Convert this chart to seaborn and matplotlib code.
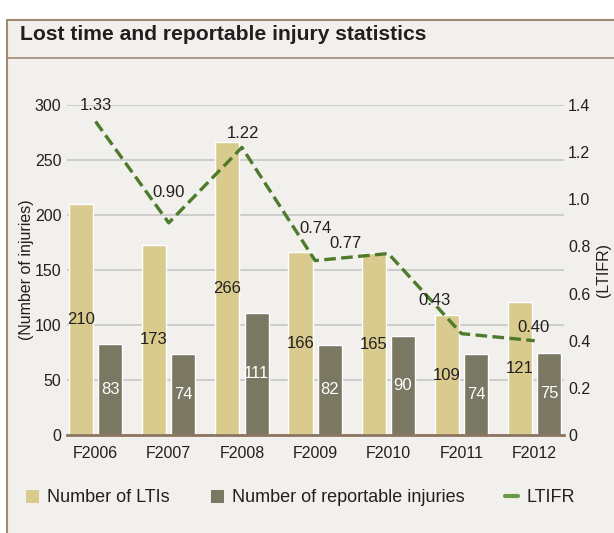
import matplotlib
matplotlib.use("Agg")
import matplotlib.pyplot as plt
from matplotlib.lines import Line2D
from matplotlib.patches import Patch, Rectangle
import seaborn as sns
import pandas as pd
import numpy as np

# data
years = ["F2006", "F2007", "F2008", "F2009", "F2010", "F2011", "F2012"]
ltis = [210, 173, 266, 166, 165, 109, 121]
reportable = [83, 74, 111, 82, 90, 74, 75]
ltifr = [1.33, 0.90, 1.22, 0.74, 0.77, 0.43, 0.40]

# label nudges for the LTIFR values (pixels)
ltifr_label_offsets = [(0, 16), (0, 30), (1, 14), (0, 32), (-43, 10), (-27, 33), (-1, 13)]

BG = "#f1f0ec"
FRAME = "#a08a74"
LTI_COLOR = "#d9cb8e"
REP_COLOR = "#7a7763"
LINE_COLOR = "#4e7a2c"
TEXT = "#231f20"

sns.set_style("white")
plt.rcParams["font.family"] = ["Liberation Sans", "DejaVu Sans"]

df = pd.DataFrame({
    "year": years * 2,
    "count": ltis + reportable,
    "series": ["Number of LTIs"] * len(years) + ["Number of reportable injuries"] * len(years),
})

fig = plt.figure(figsize=(6.14, 5.33), dpi=100, facecolor="white")
W, H = 614, 533

# panel background and frame lines
fig.add_artist(Rectangle((7 / W, 0), 1 - 7 / W, 1 - 20 / H, transform=fig.transFigure,
                         facecolor=BG, edgecolor="none", zorder=-10))
fig.add_artist(Line2D([7 / W, 7 / W], [0, 1 - 20 / H], transform=fig.transFigure, color=FRAME, lw=1.5))
fig.add_artist(Line2D([7 / W, 1], [1 - 20 / H, 1 - 20 / H], transform=fig.transFigure, color=FRAME, lw=1.5))
fig.add_artist(Line2D([7 / W, 1], [1 - 58 / H, 1 - 58 / H], transform=fig.transFigure, color=FRAME, lw=1.2))
fig.text(20 / W, 1 - 34 / H, "Lost time and reportable injury statistics", fontsize=15.2,
         fontweight="bold", color=TEXT, va="center", ha="left")

ax = fig.add_axes([67 / W, (H - 435) / H, 497 / W, 330 / H])
ax.set_facecolor(BG)

sns.barplot(data=df, x="year", y="count", hue="series", ax=ax,
            palette=[LTI_COLOR, REP_COLOR], width=0.8, gap=0.175,
            saturation=1, legend=False, zorder=3)

ax.set_xlim(-0.39, 6.4)
ax.set_ylim(0, 300)
ax.set_yticks(range(0, 301, 50))
ax.yaxis.grid(True, color="#c6c6c6", lw=1.2, zorder=0)
ax.set_axisbelow(True)
for s in ["left", "right", "top"]:
    ax.spines[s].set_visible(False)
ax.spines["bottom"].set_color("#8b7560")
ax.spines["bottom"].set_linewidth(2)
ax.spines["bottom"].set_zorder(5)
ax.tick_params(axis="both", length=0, labelsize=11.5, colors=TEXT)
ax.tick_params(axis="x", pad=8)
ax.tick_params(axis="y", pad=4)
ax.set_xlabel("")
ax.set_ylabel("(Number of injuries)", fontsize=11.5, color=TEXT)
ax.yaxis.set_label_coords(-0.066, 0.5)

# value labels at bar middles
for container, col in zip(ax.containers, [TEXT, "white"]):
    for bar in container:
        h = bar.get_height()
        ax.text(bar.get_x() + bar.get_width() / 2, h / 2, f"{int(h)}",
                ha="center", va="center", fontsize=12, color=col, zorder=6)

ax2 = ax.twinx()
ax2.set_ylim(0, 1.4)
sns.lineplot(x=np.arange(len(years)), y=ltifr, ax=ax2, color=LINE_COLOR, lw=2.4,
             zorder=7)
ax2.lines[0].set_dashes([3.5, 1.6])
ax2.set_xlim(-0.39, 6.4)
ax2.set_yticks(np.arange(0, 1.41, 0.2))
ax2.set_yticklabels(["0"] + [f"{v:.1f}" for v in np.arange(0.2, 1.41, 0.2)])
ax2.tick_params(axis="y", length=0, labelsize=11.5, colors=TEXT, pad=3)
for s in ax2.spines.values():
    s.set_visible(False)
ax2.set_ylabel("(LTIFR)", fontsize=11.5, color=TEXT)
ax2.yaxis.set_label_coords(1.064, 0.5)

for i, (v, off) in enumerate(zip(ltifr, ltifr_label_offsets)):
    ax2.annotate(f"{v:.2f}", (i, v), xytext=off, textcoords="offset pixels",
                 ha="center", va="center", fontsize=12, color=TEXT, zorder=8)

handles = [
    Patch(facecolor=LTI_COLOR, edgecolor="none", label="Number of LTIs"),
    Patch(facecolor=REP_COLOR, edgecolor="none", label="Number of reportable injuries"),
    Line2D([0], [0], color="#6a9a45", lw=3, label="LTIFR"),
]
fig.legend(handles=handles, loc="center left", bbox_to_anchor=(10 / W, 35 / H), ncol=3,
           frameon=False, fontsize=13, handlelength=0.72, handleheight=0.72,
           handletextpad=0.45, columnspacing=2.25, labelcolor=TEXT)

fig.savefig("out.png", dpi=100, facecolor=fig.get_facecolor())
